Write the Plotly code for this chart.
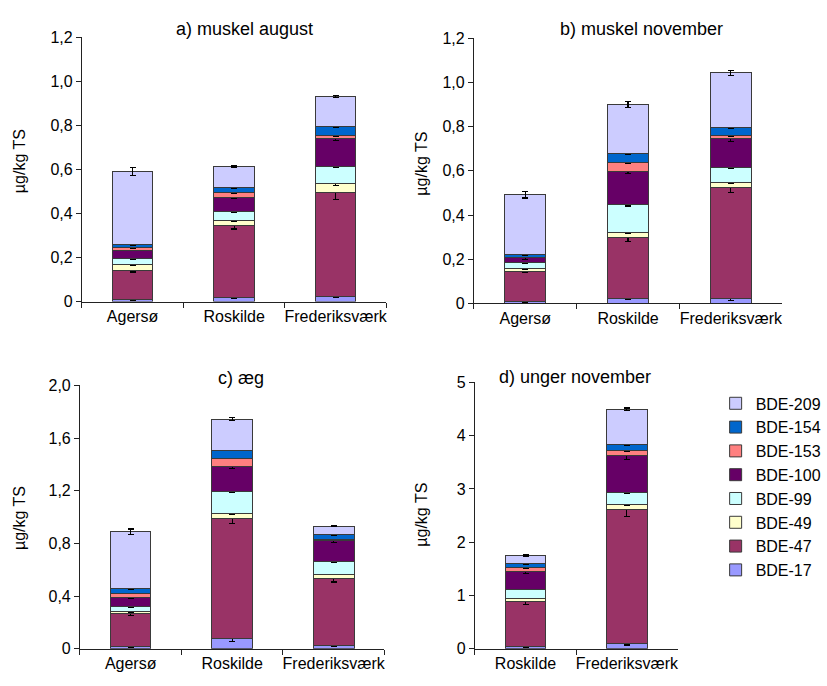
import plotly.graph_objects as go

# ---------------- data ----------------
series = ["BDE-17", "BDE-47", "BDE-49", "BDE-99", "BDE-100", "BDE-153", "BDE-154", "BDE-209"]
colors = ["#9999FF", "#993366", "#FFFFCC", "#CCFFFF", "#660066", "#FF8080", "#0066CC", "#CCCCFF"]

sites_abc = ["Agersø", "Roskilde", "Frederiksværk"]
sites_d = ["Roskilde", "Frederiksværk"]

# values per series (order of `series`), one value per site
a_values = [[0.008, 0.018, 0.021], [0.132, 0.329, 0.475], [0.027, 0.019, 0.038], [0.029, 0.041, 0.081],
            [0.037, 0.067, 0.127], [0.011, 0.019, 0.012], [0.016, 0.024, 0.040], [0.330, 0.097, 0.137]]
a_errors = [[0.003, 0.004, 0.004], [0.006, 0.018, 0.032], [0.003, 0.002, 0.007], [0.004, 0.002, 0.005],
            [0.003, 0.004, 0.009], [0.002, 0.002, 0.002], [0.003, 0.004, 0.004], [0.018, 0.003, 0.004]]

b_values = [[0.009, 0.021, 0.022], [0.138, 0.276, 0.505], [0.010, 0.022, 0.019], [0.027, 0.130, 0.067],
            [0.022, 0.150, 0.132], [0.004, 0.040, 0.014], [0.010, 0.040, 0.039], [0.272, 0.221, 0.246]]
b_errors = [[0.003, 0.004, 0.007], [0.006, 0.016, 0.025], [0.002, 0.003, 0.004], [0.002, 0.008, 0.004],
            [0.006, 0.012, 0.012], [0.002, 0.003, 0.003], [0.002, 0.004, 0.004], [0.015, 0.013, 0.011]]

c_values = [[0.015, 0.079, 0.025], [0.249, 0.911, 0.509], [0.017, 0.035, 0.033], [0.039, 0.172, 0.098],
            [0.072, 0.187, 0.158], [0.029, 0.062, 0.010], [0.035, 0.061, 0.032], [0.431, 0.237, 0.066]]
c_errors = [[0.005, 0.022, 0.005], [0.012, 0.040, 0.028], [0.004, 0.008, 0.004], [0.007, 0.007, 0.008],
            [0.008, 0.014, 0.014], [0.003, 0.004, 0.003], [0.004, 0.004, 0.008], [0.022, 0.012, 0.004]]

d_values = [[0.05, 0.10], [0.83, 2.52], [0.07, 0.08], [0.17, 0.23],
            [0.33, 0.69], [0.07, 0.10], [0.08, 0.12], [0.15, 0.66]]
d_errors = [[0.02, 0.03], [0.05, 0.13], [0.01, 0.01], [0.01, 0.02],
            [0.03, 0.06], [0.01, 0.01], [0.01, 0.02], [0.01, 0.02]]

titles = ["a) muskel august", "b) muskel november", "c) æg", "d) unger november"]
y_title = "µg/kg TS"

ab_tickvals = [0, 0.2, 0.4, 0.6, 0.8, 1.0, 1.2]
ab_ticktext = ["0", "0,2", "0,4", "0,6", "0,8", "1,0", "1,2"]
c_tickvals = [0, 0.4, 0.8, 1.2, 1.6, 2.0]
c_ticktext = ["0", "0,4", "0,8", "1,2", "1,6", "2,0"]
d_tickvals = [0, 1, 2, 3, 4, 5]
d_ticktext = ["0", "1", "2", "3", "4", "5"]

# ---------------- figure ----------------
W, H = 827, 686
FONT = "Liberation Sans, Arial, sans-serif"

def px_x(p):
    return p / W

def px_y(p):
    return 1 - p / H

panels = [
    dict(sites=sites_abc, vals=a_values, errs=a_errors, xa="x", ya="y",
         xdom=[px_x(86), px_x(406)], ydom=[px_y(301), px_y(30)], yr=[0, 1.2],
         tv=ab_tickvals, tt=ab_ticktext, legend=False),
    dict(sites=sites_abc, vals=b_values, errs=b_errors, xa="x2", ya="y2",
         xdom=[px_x(498), px_x(822)], ydom=[px_y(303), px_y(31)], yr=[0, 1.2],
         tv=ab_tickvals, tt=ab_ticktext, legend=False),
    dict(sites=sites_abc, vals=c_values, errs=c_errors, xa="x3", ya="y3",
         xdom=[px_x(84), px_x(404)], ydom=[px_y(657), px_y(387)], yr=[0, 2.0],
         tv=c_tickvals, tt=c_ticktext, legend=False),
    dict(sites=sites_d, vals=d_values, errs=d_errors, xa="x4", ya="y4",
         xdom=[px_x(499), px_x(712)], ydom=[px_y(657), px_y(384)], yr=[0, 5],
         tv=d_tickvals, tt=d_ticktext, legend=True),
]

fig = go.Figure()
layout_axes = {}
for i, p in enumerate(panels):
    for s, name in enumerate(series):
        fig.add_trace(go.Bar(
            x=p["sites"], y=p["vals"][s], name=name,
            xaxis=p["xa"], yaxis=p["ya"],
            marker=dict(color=colors[s], line=dict(color="#3a3a3a", width=1)),
            error_y=dict(type="data", array=p["errs"][s], visible=True,
                         color="black", thickness=1.2, width=3),
            showlegend=p["legend"],
        ))
    suffix = "" if i == 0 else str(i + 1)
    layout_axes["xaxis" + suffix] = dict(
        domain=p["xdom"], anchor=p["ya"], type="category",
        range=[-0.5, len(p["sites"]) - 0.5],
        showline=True, linecolor="#222", linewidth=1,
        ticks="outside", tickson="boundaries", ticklen=5, tickcolor="#222",
        tickangle=0,
        tickfont=dict(family=FONT, size=16, color="black"),
        showgrid=False, zeroline=False, fixedrange=True,
    )
    layout_axes["yaxis" + suffix] = dict(
        domain=p["ydom"], anchor=p["xa"], range=p["yr"],
        tickvals=p["tv"], ticktext=p["tt"],
        showline=True, linecolor="#222", linewidth=1,
        ticks="outside", ticklen=5, tickcolor="#222",
        tickfont=dict(family=FONT, size=16, color="black"),
        showgrid=False, zeroline=False, fixedrange=True,
    )

annotations = []
title_pos = [(257, 22), (674, 22), (253, 379), (604, 378)]
ytitle_pos = [(20, 157), (442, 160), (20, 523), (442, 520)]
for t, (tx, ty), (yx, yy) in zip(titles, title_pos, ytitle_pos):
    annotations.append(dict(text=t, x=px_x(tx), y=px_y(ty), xref="paper", yref="paper",
                            xanchor="center", yanchor="middle", showarrow=False,
                            font=dict(family=FONT, size=18, color="black")))
    annotations.append(dict(text=y_title, x=px_x(yx), y=px_y(yy), xref="paper", yref="paper",
                            xanchor="center", yanchor="middle", showarrow=False, textangle=-90,
                            font=dict(family=FONT, size=16, color="black")))

fig.update_layout(
    width=W, height=H, margin=dict(l=0, r=0, t=0, b=0),
    paper_bgcolor="white", plot_bgcolor="white",
    barmode="stack", bargap=0.6,
    font=dict(family=FONT, size=16, color="black"),
    legend=dict(x=px_x(752), y=px_y(388), xanchor="left", yanchor="top",
                traceorder="reversed", bgcolor="rgba(0,0,0,0)",
                font=dict(family=FONT, size=16, color="black"), tracegroupgap=0),
    annotations=annotations,
    **layout_axes,
)

fig.write_html("out.html")
